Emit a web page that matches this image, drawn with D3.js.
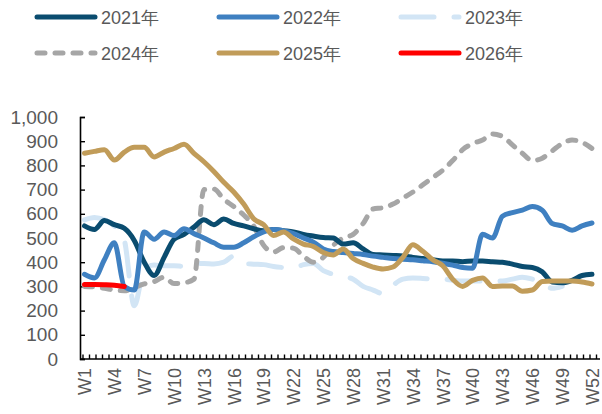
<!DOCTYPE html>
<html>
<head>
<meta charset="utf-8">
<script src="https://cdn.jsdelivr.net/npm/d3@7"></script>
<style>
  html, body { margin: 0; padding: 0; background: #fff; }
  svg { display: block; }
  text { font-family: "Liberation Sans", Arial, sans-serif; fill: #595959; }
</style>
</head>
<body>
<svg id="chart" width="602" height="414"></svg>
<script>
// ---- Data ----
const weeks = d3.range(1, 53);
const weekLabels = d3.range(1, 53, 3).map(w => "W" + w);
const yTicks = d3.range(0, 1001, 100);

const s2021 = [550,535,572,555,540,490,400,345,420,495,515,545,575,555,578,560,550,538,530,535,530,525,515,508,502,500,475,480,455,432,430,428,426,420,415,410,405,405,402,405,405,402,400,392,382,378,360,318,315,325,345,350];
const s2022 = [350,335,410,480,300,285,525,495,525,510,538,518,500,480,462,462,480,505,525,535,530,518,500,483,455,444,440,436,432,425,420,415,412,410,406,402,396,388,378,375,515,500,590,605,615,630,615,560,550,532,550,562];
const s2023 = [575,585,575,550,490,220,370,388,385,385,383,395,395,393,400,425,395,392,390,382,378,376,390,395,365,350,340,330,300,285,270,305,330,335,333,330,330,325,322,322,322,322,322,330,338,330,315,292,300];
const s2024 = [300,298,292,285,282,295,310,320,338,312,315,330,700,702,660,630,595,550,470,442,460,458,425,400,420,470,500,515,560,620,625,640,665,690,720,750,780,820,865,890,905,930,920,885,850,820,830,860,890,905,895,870];
const s2025 = [850,858,865,822,855,875,875,835,855,870,887,850,815,775,730,690,640,580,555,510,525,496,475,465,440,430,455,415,395,380,372,380,420,472,445,410,385,330,300,325,335,300,302,302,280,285,320,322,322,322,318,310];
const s2026 = [308,308,307,305,300];

const seriesNames = ["2021年","2022年","2023年","2024年","2025年","2026年"];
const seriesValues = [s2021, s2022, s2023, s2024, s2025, s2026];

// ---- Styles ----
const styles = [
  {color: "#0a4c6f", dash: null},
  {color: "#3f80c1", dash: null},
  {color: "#d2e5f5", dash: "33,20"},
  {color: "#a6a6a6", dash: "8,10"},
  {color: "#c19c59", dash: null},
  {color: "#ff0000", dash: null}
];
const drawOrder = [2, 3, 0, 1, 4, 5];

const svg = d3.select("#chart");
const plotLeft = 80, plotRight = 600, plotTop = 117, plotBottom = 359;

const x = d3.scaleLinear().domain([1, 52]).range([84.5, 592]);
const y = d3.scaleLinear().domain([0, 1000]).range([plotBottom, plotTop]);
const xTick = d3.scaleLinear().domain([0, 80]).range([plotLeft + 2.5, plotLeft + 2.5 + 80 * 6.5]);

// Y axis
const yAxis = d3.axisLeft(y).tickValues(yTicks).tickFormat(d3.format(",")).tickSize(-5).tickPadding(22);
const gy = svg.append("g").attr("transform", `translate(${plotLeft},0)`).call(yAxis);
gy.select(".domain").attr("stroke", "#000").attr("stroke-width", 1.6);
gy.selectAll(".tick line").attr("stroke", "#000").attr("stroke-width", 1.4);
gy.selectAll(".tick text").style("font-size", "19px").attr("fill", "#595959")
  .style("font-family", '"Liberation Sans", Arial, sans-serif');

// X axis: tick marks
const xAxisTicks = d3.axisBottom(xTick).tickValues(d3.range(0, 80)).tickSize(-4.5).tickFormat("");
const gx = svg.append("g").attr("transform", `translate(0,${plotBottom})`).call(xAxisTicks);
gx.select(".domain").remove();
gx.selectAll(".tick line").attr("stroke", "#000").attr("stroke-width", 1.4);
svg.append("line").attr("x1", plotLeft).attr("x2", plotRight).attr("y1", plotBottom).attr("y2", plotBottom)
  .attr("stroke", "#000").attr("stroke-width", 1.6);

// X axis labels
const xAxisLabels = d3.axisBottom(x).tickValues(d3.range(1, 53, 3)).tickSize(0)
  .tickFormat((d, i) => weekLabels[i]);
const gxl = svg.append("g").attr("transform", `translate(0,${plotBottom})`).call(xAxisLabels);
gxl.select(".domain").remove();
gxl.selectAll(".tick text")
  .attr("transform", "rotate(-90)")
  .attr("x", -9).attr("y", 0).attr("dy", "0.35em")
  .style("text-anchor", "end")
  .style("font-size", "18px").attr("fill", "#595959")
  .style("font-family", '"Liberation Sans", Arial, sans-serif');

// Lines
const line = d3.line().x((d, i) => x(weeks[i])).y(d => y(d)).curve(d3.curveMonotoneX);
drawOrder.forEach(k => {
  svg.append("path")
    .datum(seriesValues[k])
    .attr("d", line)
    .attr("fill", "none")
    .attr("stroke", styles[k].color)
    .attr("stroke-width", 5)
    .attr("stroke-linecap", "round")
    .attr("stroke-linejoin", "round")
    .attr("stroke-dasharray", styles[k].dash);
});

// Legend
const legPos = [[35,17],[217,17],[399,17],[35,53],[217,53],[399,53]];
seriesNames.forEach((name, k) => {
  const [lx, ly] = legPos[k];
  svg.append("line").attr("x1", lx + 2).attr("x2", lx + 60).attr("y1", ly).attr("y2", ly)
    .attr("stroke", styles[k].color).attr("stroke-width", 5)
    .attr("stroke-linecap", "round")
    .attr("stroke-dasharray", styles[k].dash);
  svg.append("text").attr("x", lx + 66).attr("y", ly + 7)
    .style("font-size", "18px").text(name);
});
</script>
</body>
</html>
